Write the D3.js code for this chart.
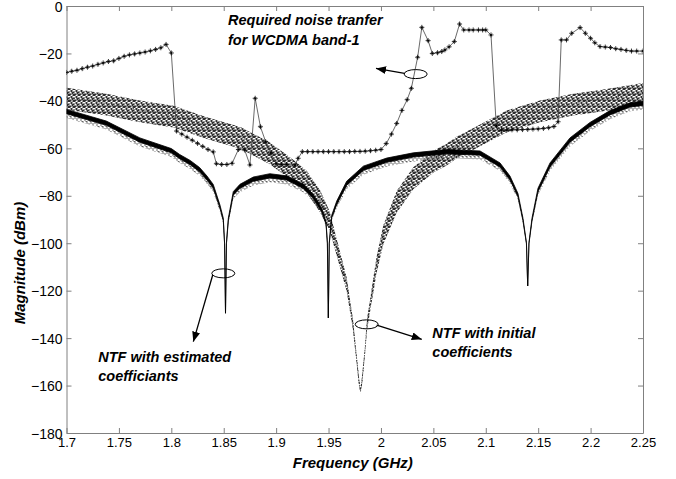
<!DOCTYPE html>
<html>
<head>
<meta charset="utf-8">
<script src="https://cdn.jsdelivr.net/npm/d3@7"></script>
<style>
body{margin:0;background:#fff}
svg{display:block}
text{font-family:"Liberation Sans",Arial,sans-serif}
</style>
</head>
<body>
<div id="chart"></div>
<script>
'use strict';

// ---- data (frequency in GHz, magnitude in dB) ----

// required noise transfer mask for WCDMA band-1
const maskFreq = [1.700,1.705,1.710,1.715,1.720,1.725,1.730,1.735,1.740,1.745,1.750,1.755,1.760,1.765,1.770,1.775,1.780,1.785,1.790,1.795,
  1.800,1.805,1.810,1.815,1.820,1.825,1.830,1.835,1.840,1.843,1.848,1.853,1.858,1.864,1.870,1.875,1.880,1.885,1.890,1.895,1.900,1.905,1.910,1.918,1.921,
  1.925,1.930,1.935,1.940,1.945,1.950,1.955,1.960,1.965,1.970,1.975,1.980,1.985,1.990,1.995,2.000,
  2.005,2.010,2.015,2.020,2.025,2.029,2.035,2.039,2.045,2.049,2.054,2.058,2.061,2.065,2.070,2.075,2.079,2.084,2.088,2.093,2.097,2.100,2.105,
  2.110,2.115,2.120,2.125,2.130,2.135,2.140,2.145,2.150,2.155,2.160,2.165,2.169,2.172,2.177,2.182,2.190,2.195,2.200,2.204,2.209,
  2.214,2.219,2.224,2.229,2.234,2.239,2.244,2.250];
const maskDb = [-28.0,-27.5,-27.1,-26.4,-25.8,-25.3,-24.6,-24.0,-23.4,-23.1,-22.1,-21.2,-20.6,-20.2,-19.8,-19.4,-18.9,-18.3,-17.6,-16.2,
  -19.8,-52.7,-54.0,-55.3,-56.6,-57.9,-59.2,-60.5,-61.5,-66.5,-66.8,-66.8,-66.3,-60.5,-60.7,-67.0,-38.9,-50.9,-57.2,-62.0,-66.5,-66.8,-66.8,-67.0,-64.2,
  -61.4,-61.4,-61.4,-61.4,-61.4,-61.4,-61.4,-61.4,-61.4,-61.4,-61.3,-61.3,-61.2,-61.0,-60.8,-60.5,
  -58.0,-54.0,-49.5,-44.0,-39.5,-34.7,-21.6,-9.0,-14.6,-20.0,-19.7,-19.2,-18.5,-17.2,-15.0,-7.6,-10.1,-10.1,-10.1,-10.1,-10.1,-10.1,-12.2,
  -50.5,-52.3,-52.3,-52.2,-52.2,-52.1,-52.0,-51.9,-51.8,-51.6,-51.3,-50.8,-48.8,-14.3,-14.3,-11.5,-9.1,-11.5,-13.6,-15.5,-17.1,
  -17.3,-17.5,-18.0,-18.3,-18.7,-19.0,-19.0,-19.0];

// NTF with estimated coefficients (centre of the dark band and its half spread)
const estFreq = [1.700,1.738,1.770,1.800,1.808,1.818,1.827,1.834,1.840,1.8464,1.8496,1.8508,1.8517,1.8526,1.8544,1.8591,1.8655,1.8782,1.894,1.910,
  1.926,1.935,1.9435,1.9476,1.9489,1.9498,1.9507,1.953,1.9578,1.9673,1.9832,2.0055,2.0309,2.0627,2.0945,2.1136,2.1231,2.1307,2.1355,2.1388,2.1400,2.1412,
  2.1441,2.1498,2.1613,2.1803,2.1994,2.2185,2.2376,2.250];
const estDb = [-44.5,-49.4,-56.5,-61.0,-63.5,-66.0,-69.0,-72.5,-76.0,-84.6,-90.0,-100.0,-129.5,-100.0,-90.0,-79.0,-76.0,-73.0,-71.6,-72.5,
  -76.0,-80.0,-86.0,-91.5,-100.0,-131.5,-100.0,-88.8,-83.0,-74.7,-68.4,-65.0,-62.8,-61.4,-62.0,-67.0,-72.5,-79.7,-90.0,-100.0,-118.0,-100.0,
  -90.0,-77.6,-67.0,-56.5,-50.0,-45.0,-41.7,-41.0];
const estSpread = [0.9,0.9,0.9,0.9,0.9,0.9,0.9,0.85,0.8,0.7,0.55,0.2,0,0.2,0.55,0.75,0.85,0.9,0.9,0.9,
  0.85,0.8,0.7,0.55,0.2,0,0.2,0.55,0.75,0.85,0.9,0.9,0.9,0.9,0.9,0.85,0.8,0.7,0.55,0.2,0,0.2,
  0.55,0.75,0.85,0.9,0.9,0.9,0.9,0.9];

// NTF with initial coefficients (centre of the dotted band and its half spread)
const initFreq = [1.700,1.738,1.770,1.802,1.834,1.866,1.894,1.913,1.929,1.942,1.951,1.9673,1.9733,1.9771,1.9790,1.9805,1.9819,1.9848,1.9867,1.9959,
  2.0022,2.015,2.0309,2.050,2.0627,2.0723,2.0878,2.120,2.1517,2.1835,2.2153,2.250];
const initDb = [-38.5,-41.0,-43.8,-46.0,-50.9,-55.0,-61.5,-67.7,-73.3,-81.8,-90.0,-117.0,-134.0,-150.0,-158.0,-162.0,-158.0,-145.0,-134.0,-108.5,
  -96.0,-82.0,-72.0,-65.0,-62.0,-59.0,-55.5,-48.0,-43.8,-41.0,-39.0,-36.5];
const initSpread = [4,4,4,4,4,4,4,4,4,4,3.5,2.5,2,1.5,1.5,1,1.5,1.5,2,3,
  3.5,4,4,4,4,4,4,4,4,4,4,4];

const xTicks = [1.7,1.75,1.8,1.85,1.9,1.95,2,2.05,2.1,2.15,2.2,2.25];
const yTicks = [0,-20,-40,-60,-80,-100,-120,-140,-160,-180];

// annotations, anchored in data units
const notes = [
  {lines: ["Required noise tranfer", "for WCDMA band-1"], f: 1.8541, db: -8.2, step: 8.2},
  {lines: ["NTF with estimated", "coefficiants"], f: 1.7303, db: -150.1, step: 7.8},
  {lines: ["NTF with initial", "coefficients"], f: 2.049, db: -140.0, step: 7.8}
];
const rings = [
  {f: 2.0331, db: -28.7, from: [2.0225, -28.4], to: [1.9953, -26.3]},
  {f: 1.8496, db: -112.7, from: [1.8395, -113.4], to: [1.8210, -141.5]},
  {f: 1.9864, db: -134.2, from: [1.9959, -134.5], to: [2.0389, -140.5]}
];

// ---- chart ----
const W = 676, H = 479;
const margin = {top: 6, left: 66.5, right: 33, bottom: 46};
const width = W - margin.left - margin.right,
      height = H - margin.top - margin.bottom;

const svg = d3.select("#chart").append("svg")
  .attr("width", W).attr("height", H);

const defs = svg.append("defs");
// speckle texture for the noisy traces: short vertical dashes
const speckle = defs.append("pattern")
  .attr("id", "speckle").attr("patternUnits", "userSpaceOnUse")
  .attr("width", 5).attr("height", 6);
[[0,0,4],[1,2,4],[2,1,2],[3,3,3],[4,0,2],[2,4,2],[4,4,1]].forEach(r =>
  speckle.append("rect").attr("x", r[0]).attr("y", r[1]).attr("width", 1).attr("height", r[2]).attr("fill", "#2e2e2e"));
const fuzz = defs.append("pattern")
  .attr("id", "fuzz").attr("patternUnits", "userSpaceOnUse")
  .attr("width", 4).attr("height", 5);
[[0,0,3],[2,2,3],[3,0,1]].forEach(r =>
  fuzz.append("rect").attr("x", r[0]).attr("y", r[1]).attr("width", 1).attr("height", r[2]).attr("fill", "#666"));
defs.append("marker")
  .attr("id", "head").attr("viewBox", "0 0 10 8")
  .attr("refX", 10).attr("refY", 4)
  .attr("markerWidth", 10).attr("markerHeight", 8)
  .attr("markerUnits", "userSpaceOnUse")
  .attr("orient", "auto")
  .append("path").attr("d", "M0,0L10,4L0,8Z").attr("fill", "#000");

defs.append("clipPath").attr("id", "plotClip")
  .append("rect").attr("width", width).attr("height", height);

const g = svg.append("g").attr("transform", `translate(${margin.left},${margin.top})`);

const x = d3.scaleLinear().domain([1.7, 2.25]).range([0, width]);
const y = d3.scaleLinear().domain([-180, 0]).range([height, 0]);

// axes, MATLAB style box with inward ticks
const axisColor = "#808080";
function styleAxis(sel){
  sel.select(".domain").attr("stroke", axisColor);
  sel.selectAll(".tick line").attr("stroke", axisColor);
  sel.selectAll(".tick text").attr("fill", "#000").attr("font-size", 13);
}
g.append("g").attr("transform", `translate(0,${height})`)
  .call(d3.axisBottom(x).tickValues(xTicks).tickSizeInner(-5).tickSizeOuter(0).tickPadding(5)
    .tickFormat(d => String(+d.toFixed(2))))
  .call(styleAxis);
g.append("g")
  .call(d3.axisTop(x).tickValues(xTicks).tickSizeInner(-5).tickSizeOuter(0).tickFormat(""))
  .call(styleAxis);
g.append("g")
  .call(d3.axisLeft(y).tickValues(yTicks).tickSizeInner(-5).tickSizeOuter(0).tickPadding(4))
  .call(styleAxis)
  .call(a => a.selectAll(".tick text").attr("font-size", 14).attr("dy", "0.36em"));
g.append("g").attr("transform", `translate(${width},0)`)
  .call(d3.axisRight(y).tickValues(yTicks).tickSizeInner(-5).tickSizeOuter(0).tickFormat(""))
  .call(styleAxis);

// axis titles
svg.append("text")
  .attr("x", margin.left + width / 2 - 2).attr("y", 468)
  .attr("text-anchor", "middle").attr("font-size", 15)
  .attr("font-weight", "bold").attr("font-style", "italic")
  .text("Frequency (GHz)");
svg.append("text")
  .attr("transform", `translate(25,263) rotate(-90)`)
  .attr("text-anchor", "middle").attr("font-size", 15)
  .attr("font-weight", "bold").attr("font-style", "italic")
  .text("Magnitude (dBm)");

const plot = g.append("g").attr("clip-path", "url(#plotClip)");

// initial coefficients: speckled band
const initData = initFreq.map((f, i) => ({f: f, db: initDb[i], s: initSpread[i]}));
plot.append("path").datum(initData)
  .attr("fill", "url(#speckle)")
  .attr("d", d3.area().x(d => x(d.f)).y0(d => y(d.db - d.s * 1.3)).y1(d => y(d.db + d.s)));
plot.append("path").datum(initData)
  .attr("fill", "none").attr("stroke", "#333").attr("stroke-width", 0.8)
  .attr("stroke-dasharray", "1,1.5")
  .attr("d", d3.line().x(d => x(d.f)).y(d => y(d.db)));

// estimated coefficients: dark band with grey fuzz below
const estData = estFreq.map((f, i) => ({f: f, db: estDb[i], s: estSpread[i]}));
plot.append("path").datum(estData)
  .attr("fill", "url(#fuzz)")
  .attr("d", d3.area().x(d => x(d.f)).y0(d => y(d.db - d.s * 3)).y1(d => y(d.db)));
plot.append("path").datum(estData)
  .attr("fill", "#000").attr("stroke", "#000").attr("stroke-width", 0.8)
  .attr("d", d3.area().x(d => x(d.f)).y0(d => y(d.db - d.s)).y1(d => y(d.db + d.s)));

// mask with markers
const maskData = maskFreq.map((f, i) => ({f: f, db: maskDb[i]}));
plot.append("path").datum(maskData)
  .attr("fill", "none").attr("stroke", "#444").attr("stroke-width", 0.8)
  .attr("d", d3.line().x(d => x(d.f)).y(d => y(d.db)));
plot.selectAll(".mk").data(maskData).enter().append("path")
  .attr("class", "mk")
  .attr("transform", d => `translate(${x(d.f)},${y(d.db)})`)
  .attr("d", "M-2.5,0H2.5M0,-2.5V2.5M-1.2,-1.2L1.2,1.2M-1.2,1.2L1.2,-1.2")
  .attr("stroke", "#000").attr("stroke-width", 0.8);

// annotations
notes.forEach(n => {
  const t = g.append("text")
    .attr("font-size", 14.5).attr("font-weight", "bold").attr("font-style", "italic");
  n.lines.forEach((line, i) => {
    t.append("tspan").attr("x", x(n.f)).attr("y", y(n.db - i * n.step)).text(line);
  });
});
rings.forEach(r => {
  g.append("ellipse")
    .attr("cx", x(r.f)).attr("cy", y(r.db)).attr("rx", 11.5).attr("ry", 4.5)
    .attr("fill", "none").attr("stroke", "#000").attr("stroke-width", 1);
  g.append("line")
    .attr("x1", x(r.from[0])).attr("y1", y(r.from[1]))
    .attr("x2", x(r.to[0])).attr("y2", y(r.to[1]))
    .attr("stroke", "#000").attr("stroke-width", 1.3)
    .attr("marker-end", "url(#head)");
});
</script>
</body>
</html>
